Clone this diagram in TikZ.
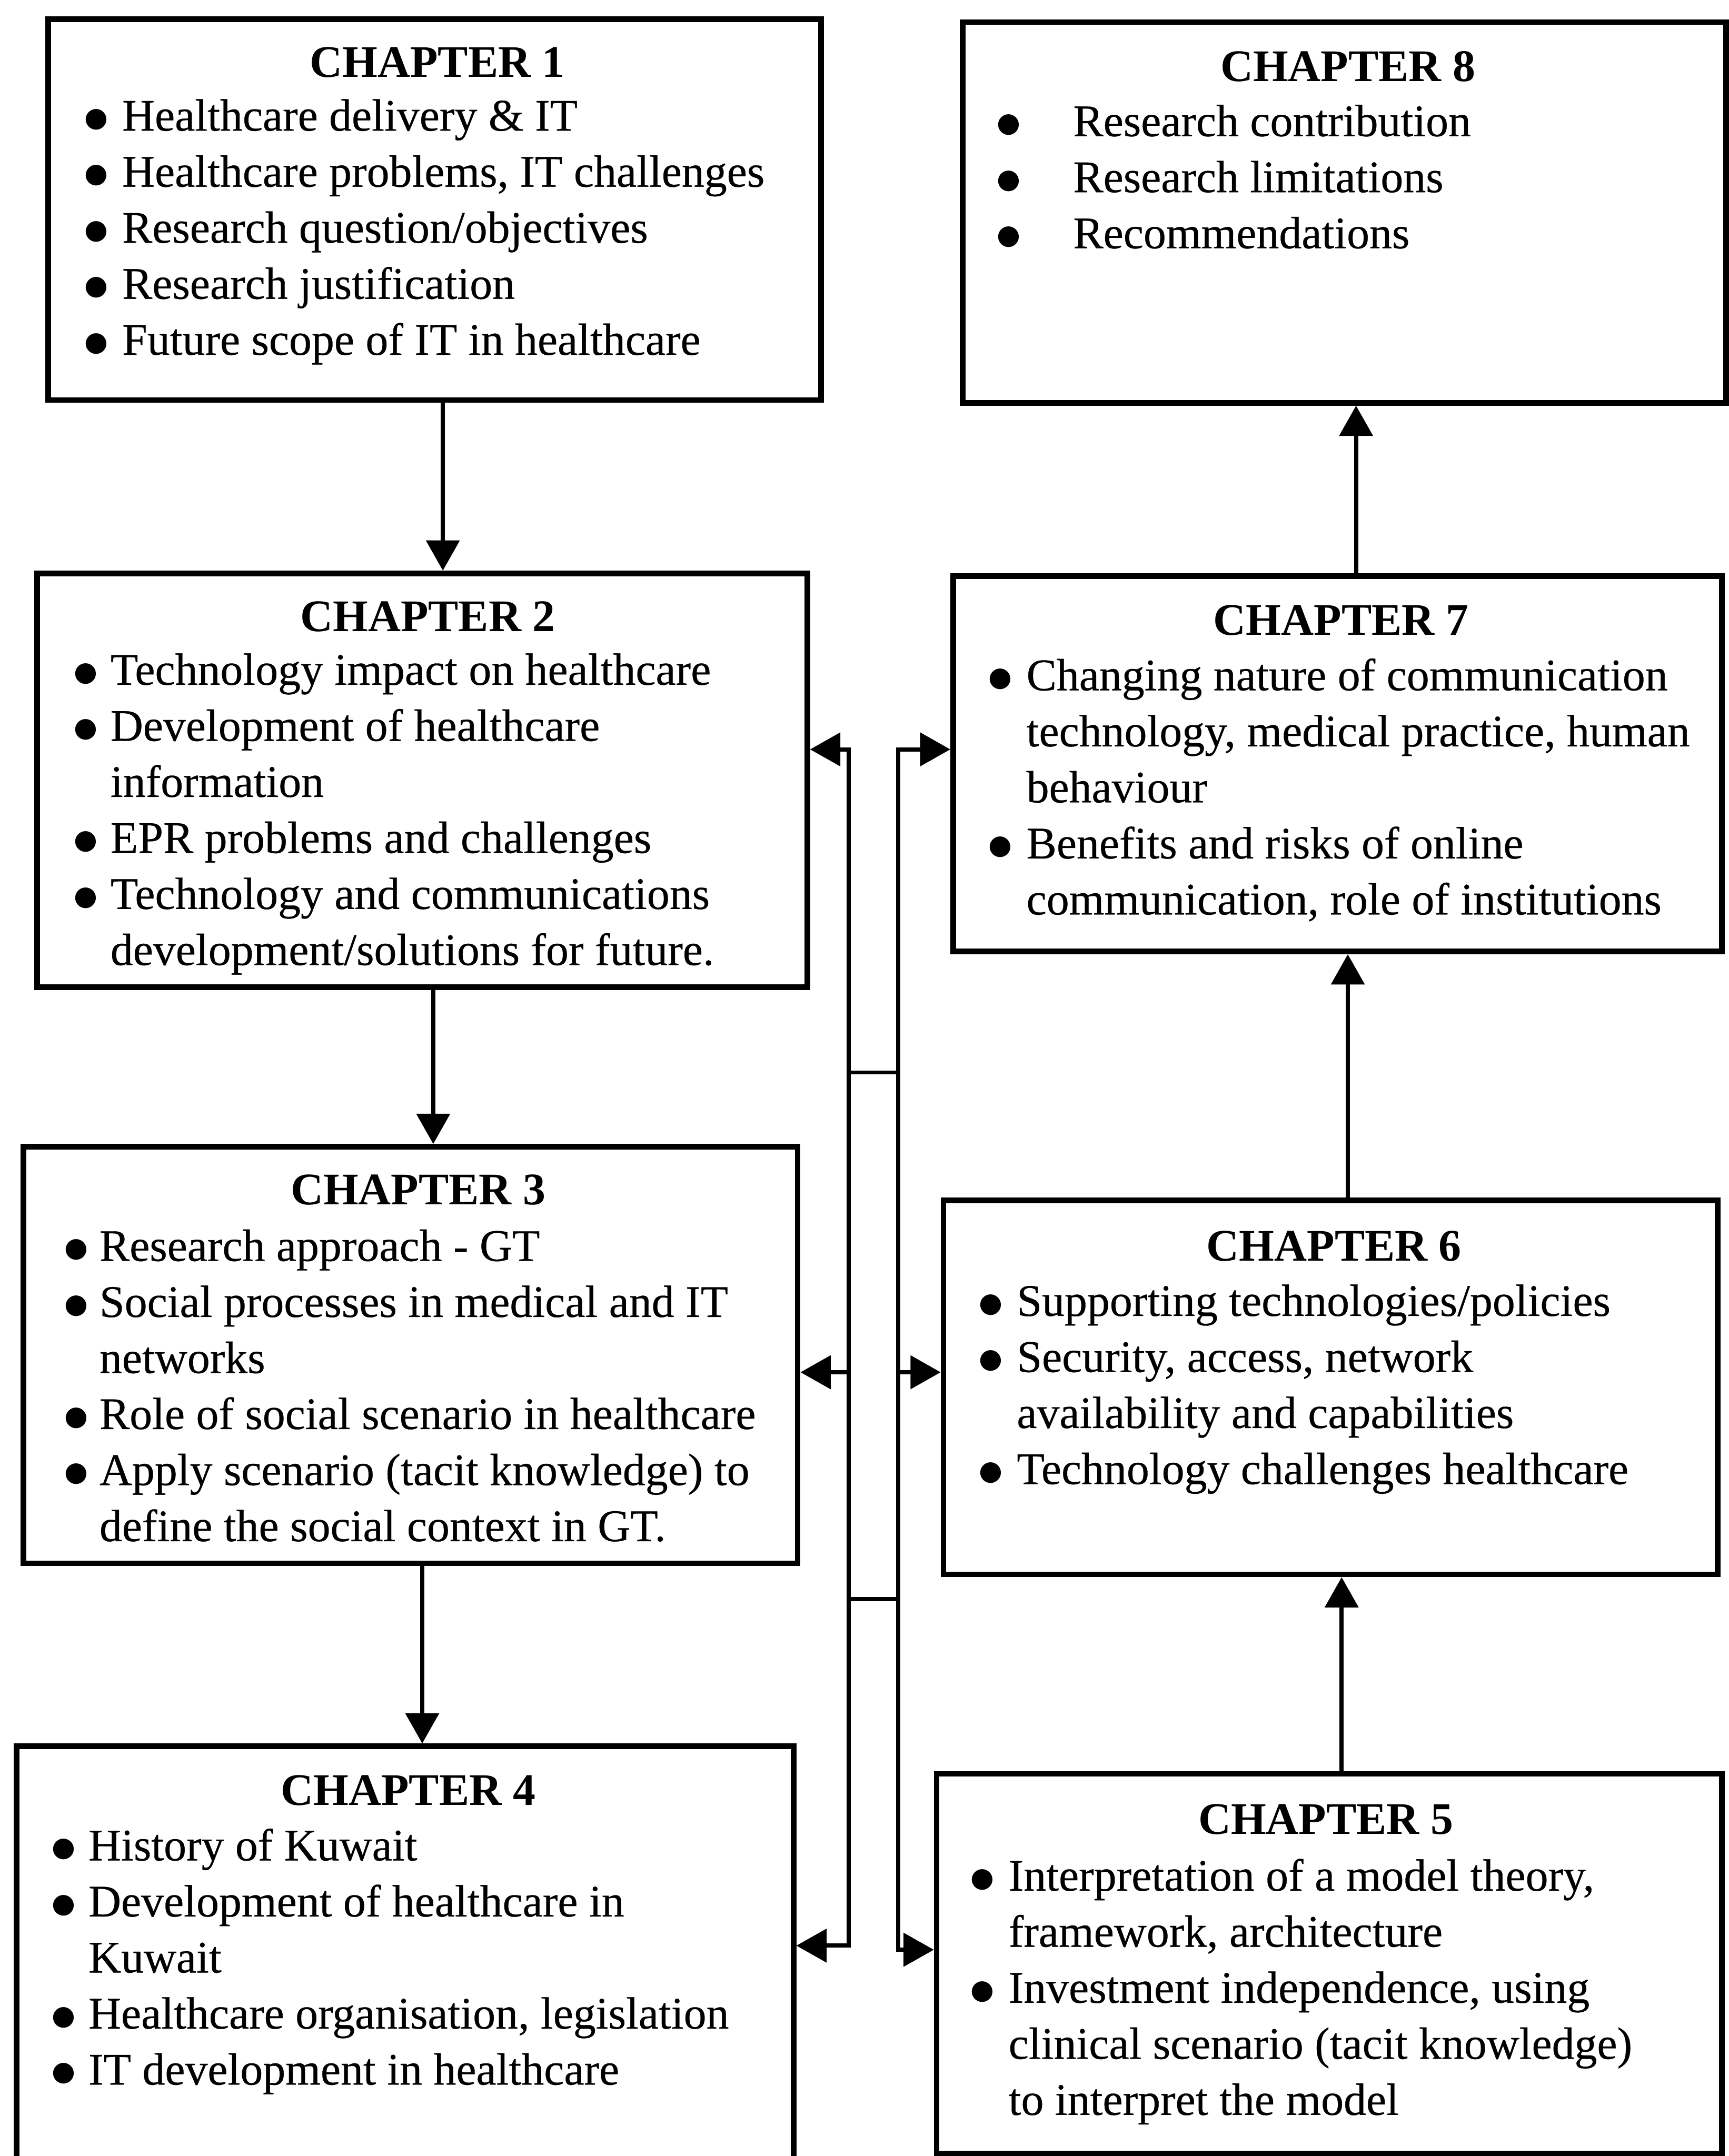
\documentclass[tikz,border=0pt]{standalone}
\usepackage{fontspec}
\setmainfont{Liberation Serif}[UprightFeatures={FakeBold=0.4}]
\newfontfamily\Cdotfont{DejaVu Sans}
\usetikzlibrary{arrows.meta,fit}
\tikzset{%
    Cbox/.style={draw, line width=2.3pt, inner sep=0pt},
    Ctitle/.style={font=\fontsize{18.7}{23.2}\selectfont\bfseries, inner sep=0pt, anchor=base},
    Clist/.style={font=\fontsize{18.7}{23.2}\selectfont, inner sep=0pt, anchor=base west},
    Cline/.style={line width=1.7pt, line cap=rect},
    Carrow/.style={line width=1.7pt, -{Triangle[length=0.44cm, width=0.48cm]}}
}
% big round bullet, centred in a fixed column
\newcommand{\Cbul}{\makebox[0.26cm][c]{\raisebox{1.7pt}{\Cdotfont\fontsize{11.2}{13}\selectfont ●}}}
% bullet list: #1 = gap after the bullet, #2 = rows
\newcommand{\Clines}[2]{%
    \begin{tabular}[t]{@{}l@{\hspace{#1}}l@{}}#2\end{tabular}}

\begin{document}
\begin{tikzpicture}[x=0.02cm, y=-0.02cm]
    \useasboundingbox (0,0) rectangle (1257,1568);

    % chapter boxes
    \node [Cbox, fit={(35,14) (597,291)}]    (ch1) {};
    \node [Cbox, fit={(27,417) (587,718)}]   (ch2) {};
    \node [Cbox, fit={(17,834) (580,1137)}]  (ch3) {};
    \node [Cbox, fit={(12,1270) (577,1590)}] (ch4) {};
    \node [Cbox, fit={(681,1290) (1252,1566)}] (ch5) {};
    \node [Cbox, fit={(686,873) (1249,1145)}]  (ch6) {};
    \node [Cbox, fit={(693,419) (1252,692)}]   (ch7) {};
    \node [Cbox, fit={(700,16) (1255,293)}]    (ch8) {};

    % titles
    \node [Ctitle] (t1) at (318,56)   {CHAPTER 1};
    \node [Ctitle] (t2) at (311,459)  {CHAPTER 2};
    \node [Ctitle] (t3) at (304,876)  {CHAPTER 3};
    \node [Ctitle] (t4) at (297,1313) {CHAPTER 4};
    \node [Ctitle] (t5) at (964,1334) {CHAPTER 5};
    \node [Ctitle] (t6) at (970,917)  {CHAPTER 6};
    \node [Ctitle] (t7) at (975,462)  {CHAPTER 7};
    \node [Ctitle] (t8) at (980,59)   {CHAPTER 8};

    % contents
    \node [Clist] (l1) at (63,95) {\Clines{0.25cm}{%
        \Cbul & Healthcare delivery \& IT\\
        \Cbul & Healthcare problems, IT challenges\\
        \Cbul & Research question/objectives\\
        \Cbul & Research justification\\
        \Cbul & Future scope of IT in healthcare}};
    \node [Clist] (l2) at (55.5,498) {\Clines{0.23cm}{%
        \Cbul & Technology impact on healthcare\\
        \Cbul & Development of healthcare\\
              & information\\
        \Cbul & EPR problems and challenges\\
        \Cbul & Technology and communications\\
              & development/solutions for future.}};
    \node [Clist] (l3) at (48.5,917) {\Clines{0.21cm}{%
        \Cbul & Research approach - GT\\
        \Cbul & Social processes in medical and IT\\
              & networks\\
        \Cbul & Role of social scenario in healthcare\\
        \Cbul & Apply scenario (tacit knowledge) to\\
              & define the social context in GT.}};
    \node [Clist] (l4) at (39.5,1353) {\Clines{0.23cm}{%
        \Cbul & History of Kuwait\\
        \Cbul & Development of healthcare in\\
              & Kuwait\\
        \Cbul & Healthcare organisation, legislation\\
        \Cbul & IT development in healthcare}};
    \node [Clist] (l5) at (707.5,1375) {\Clines{0.25cm}{%
        \Cbul & Interpretation of a model theory,\\
              & framework, architecture\\
        \Cbul & Investment independence, using\\
              & clinical scenario (tacit knowledge)\\
              & to interpret the model}};
    \node [Clist] (l6) at (713.5,957) {\Clines{0.25cm}{%
        \Cbul & Supporting technologies/policies\\
        \Cbul & Security, access, network\\
              & availability and capabilities\\
        \Cbul & Technology challenges healthcare}};
    \node [Clist] (l7) at (720.5,502) {\Clines{0.25cm}{%
        \Cbul & Changing nature of communication\\
              & technology, medical practice, human\\
              & behaviour\\
        \Cbul & Benefits and risks of online\\
              & communication, role of institutions}};
    \node [Clist] (l8) at (726.5,99) {\Clines{0.81cm}{%
        \Cbul & Research contribution\\
        \Cbul & Research limitations\\
        \Cbul & Recommendations}};

    % down the left column, up the right column
    \draw [Carrow] ([xshift=0.12cm]ch1.south) -- ([xshift=0.12cm]ch1.south |- ch2.north);
    \draw [Carrow] ([xshift=0.16cm]ch2.south) -- ([xshift=0.16cm]ch2.south |- ch3.north);
    \draw [Carrow] ([xshift=0.17cm]ch3.south) -- ([xshift=0.17cm]ch3.south |- ch4.north);
    \draw [Carrow] ([xshift=0.18cm]ch5.north) -- ([xshift=0.18cm]ch5.north |- ch6.south);
    \draw [Carrow] ([xshift=0.25cm]ch6.north) -- ([xshift=0.25cm]ch6.north |- ch7.south);
    \draw [Carrow] ([xshift=0.27cm]ch7.north) -- ([xshift=0.27cm]ch7.north |- ch8.south);

    % the two buses in the middle
    \path
        (617,545)  coordinate (Ltop)
        (617,998)  coordinate (Lmid)
        (617,1415) coordinate (Lbot)
        (653,545)  coordinate (Rtop)
        (653,998)  coordinate (Rmid)
        (653,1418) coordinate (Rbot)
        (617,780)  coordinate (La)
        (653,780)  coordinate (Ra)
        (617,1163) coordinate (Lb)
        (653,1163) coordinate (Rb);

    \draw [Cline] (Ltop) -- (Lbot) (Rtop) -- (Rbot);
    \draw [Cline] (La) -- (Ra) (Lb) -- (Rb);

    \foreach \c/\n in {Ltop/ch2, Lmid/ch3, Lbot/ch4}
        \draw [Carrow] (\c) -- (\c -| \n.east);
    \foreach \c/\n in {Rtop/ch7, Rmid/ch6, Rbot/ch5}
        \draw [Carrow] (\c) -- (\c -| \n.west);

\end{tikzpicture}
\end{document}
